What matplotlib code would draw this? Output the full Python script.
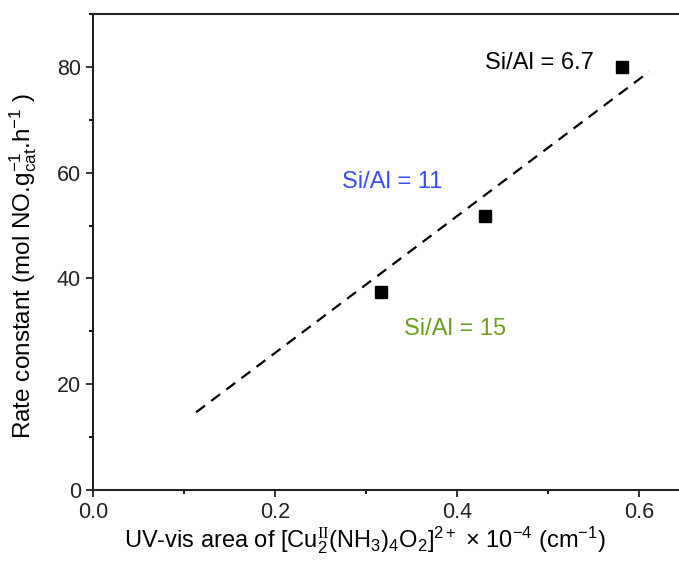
import matplotlib
matplotlib.use("Agg")
import matplotlib.pyplot as plt
from matplotlib.ticker import MultipleLocator

# data
uv_area = [0.316, 0.431, 0.581]
rate_const = [37.5, 51.8, 80.0]
sample_labels = ["Si/Al = 15", "Si/Al = 11", "Si/Al = 6.7"]
label_colors = ["#6b9e1f", "#3b4cf2", "black"]

# dashed guide line (fit through the origin)
fit_x = [0.113, 0.611]
fit_y = [14.7, 79.1]

plt.rcParams['font.family'] = ['Liberation Sans', 'DejaVu Sans']
plt.rcParams['mathtext.fontset'] = 'custom'
plt.rcParams['mathtext.rm'] = 'Liberation Sans'
plt.rcParams['mathtext.it'] = 'Liberation Sans:italic'
plt.rcParams['mathtext.cal'] = 'Liberation Serif'


def main():
    fig = plt.figure(figsize=(6.79, 5.65), dpi=100)
    ax = fig.add_axes([93.3 / 679, 75 / 565, 0.871, 476 / 565])

    ax.plot(fit_x, fit_y, color='black', linestyle=(0, (5, 3.5)), linewidth=1.6)
    ax.plot(uv_area, rate_const, 's', color='black', markersize=8.5)

    # annotations: Si/Al = 15, 11, 6.7
    text_pos = [(0.341, 30.5), (0.273, 58.2), (0.430, 80.8)]
    for (tx, ty), lab, col in zip(text_pos, sample_labels, label_colors):
        ax.text(tx, ty, lab, color=col, fontsize=17, ha='left', va='center')

    ax.set_xlim(0, 0.65)
    ax.set_ylim(0, 90)
    ax.xaxis.set_major_locator(MultipleLocator(0.2))
    ax.xaxis.set_minor_locator(MultipleLocator(0.1))
    ax.yaxis.set_major_locator(MultipleLocator(20))
    ax.yaxis.set_minor_locator(MultipleLocator(10))
    ax.tick_params(which='major', direction='out', length=5, width=1.3,
                   labelsize=15.5, colors='#222222', pad=4)
    ax.tick_params(which='minor', direction='out', length=3, width=1.3)
    for sp in ax.spines.values():
        sp.set_linewidth(1.5)
        sp.set_color('#222222')

    ax.set_xlabel(r'UV-vis area of [Cu$_2^{\mathcal{II}}$(NH$_3$)$_4$O$_2$]$^{2+}$ × 10$^{-4}$ (cm$^{-1}$)',
                  fontsize=17)
    ax.set_ylabel(r'Rate constant (mol NO.g$_{\mathrm{cat}}^{-1}$.h$^{-1}$ )',
                  fontsize=17.5)
    ax.xaxis.set_label_coords(0.459, -0.073)
    ax.yaxis.set_label_coords(-0.092, 0.47)

    fig.savefig('out.png', dpi=100)


if __name__ == "__main__":
    main()
